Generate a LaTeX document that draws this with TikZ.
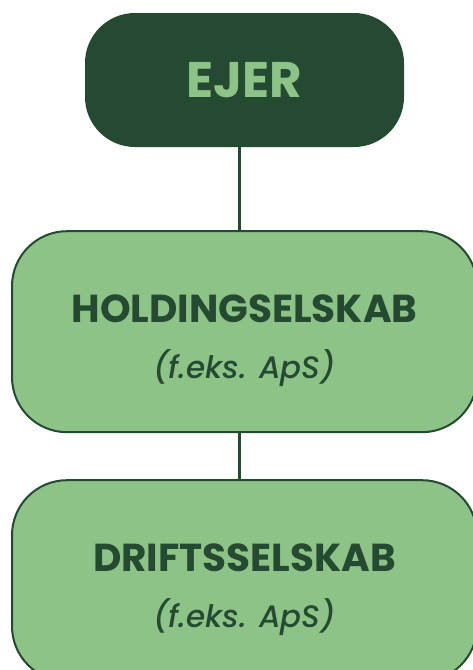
\documentclass[tikz,border=0pt]{standalone}
\usepackage{fontspec}
\setmainfont{Poppins}[ItalicFont={Poppins Medium Italic}]
\usepackage{xcolor}
\usetikzlibrary{positioning}
\definecolor{ejergreen}{HTML}{244B32}
\definecolor{selskabgreen}{HTML}{8EC388}
\tikzset{
  ejerbox/.style={rounded corners=50pt, fill=ejergreen, text=selskabgreen,
    minimum width=319pt, minimum height=134pt, inner sep=0pt,
    font=\fontsize{50}{54}\selectfont\bfseries},
  selskabbox/.style={rounded corners=55pt, draw=ejergreen, line width=2pt,
    fill=selskabgreen, text=ejergreen, minimum width=465pt, minimum height=201pt,
    inner sep=0pt, align=center, font=\fontsize{31}{56}\selectfont},
  ejerline/.style={draw=ejergreen, line width=2.5pt}
}
\newcommand{\selskabname}[1]{{\fontsize{39}{56}\selectfont\bfseries\rule{0pt}{46pt}#1}}
\newcommand{\selskabtype}[1]{{\itshape #1}}

\begin{document}
\begin{tikzpicture}[x=1pt, y=-1pt]
        \useasboundingbox (0,0) rectangle (473,670);
        %EJER
        \node[ejerbox] (ejer) at (244.5,80) {EJER};
        %SELSKABER
        \node[selskabbox, below=83pt of ejer] (holding) {\selskabname{HOLDINGSELSKAB}\\\selskabtype{(f.eks. ApS)}};
        \node[selskabbox, below=46pt of holding] (drift) {\selskabname{DRIFTSSELSKAB}\\\selskabtype{(f.eks. ApS)}};
        %LINJER
        \draw[ejerline] ([xshift=-5pt]ejer.south) -- ([xshift=-5pt]holding.north);
        \draw[ejerline] ([xshift=-5pt]holding.south) -- ([xshift=-5pt]drift.north);
\end{tikzpicture}
\end{document}
